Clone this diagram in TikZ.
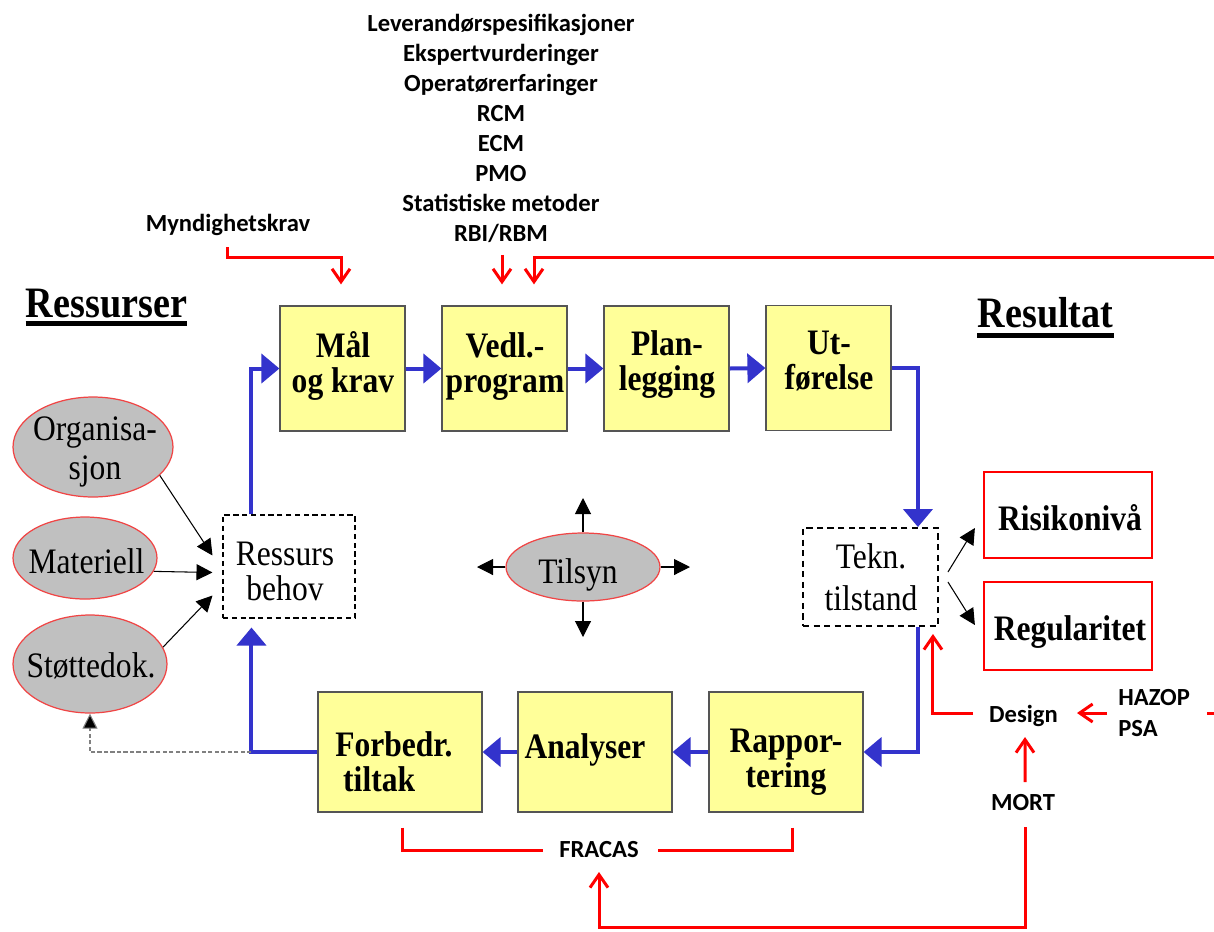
\documentclass[tikz,border=0pt]{standalone}
\usepackage{fontspec}
\usepackage{graphicx}
\setmainfont{Liberation Serif}
\newfontfamily\carlito{Carlito}
\usetikzlibrary{arrows.meta,calc,shapes.geometric}

\definecolor{boxyellow}{HTML}{FFFF99}
\definecolor{boxedge}{HTML}{555555}
\definecolor{flowblue}{HTML}{3333CC}
\definecolor{linkred}{HTML}{FF0000}
\definecolor{ovalgray}{HTML}{C0C0C0}
\definecolor{ovaledge}{HTML}{F04545}

% condensed serif text block; first baseline is the box baseline
\newcommand\narrowtext[2][c]{\scalebox{0.88}[1]{\begin{tabular}[t]{@{}#1@{}}#2\end{tabular}}}

\begin{document}
\begin{tikzpicture}[x=0.02cm,y=-0.02cm,
  stepbox/.style={rectangle,draw=boxedge,line width=0.7pt,fill=boxyellow,
    minimum width=2.5cm,minimum height=2.5cm,inner sep=0pt},
  resbox/.style={rectangle,draw=linkred,line width=0.045cm,fill=white,
    minimum width=3.36cm,inner sep=0pt},
  needbox/.style={rectangle,draw=black,line width=0.6pt,dash pattern=on 3pt off 2pt,
    minimum width=2.64cm,minimum height=2.06cm,inner sep=0pt},
  statebox/.style={rectangle,draw=black,line width=1.1pt,dash pattern=on 3.5pt off 2.5pt,
    minimum width=2.7cm,minimum height=1.96cm,inner sep=0pt},
  oval/.style={ellipse,draw=ovaledge,line width=0.7pt,fill=ovalgray,inner sep=0pt},
  boldtxt/.style={inner sep=0pt,font=\fontsize{20.4}{20.4}\selectfont\bfseries},
  plaintxt/.style={inner sep=0pt,font=\fontsize{20.4}{20.4}\selectfont},
  headtxt/.style={inner sep=0pt,font=\fontsize{24.7}{26}\selectfont\bfseries},
  sanstxt/.style={inner sep=0pt,font=\carlito\bfseries\fontsize{14}{17.07}\selectfont},
  flow/.style={draw=flowblue,line width=0.08cm,-{Triangle[length=0.36cm,width=0.58cm]}},
  link/.style={draw=linkred,line width=0.06cm,-{Straight Barb[length=0.26cm,width=0.36cm]}},
  linkline/.style={draw=linkred,line width=0.06cm},
  feed/.style={draw=black,line width=0.6pt,-{Triangle[length=0.32cm,width=0.32cm]}},
  trail/.style={draw=gray,line width=0.6pt,dash pattern=on 2.5pt off 1.2pt,
    -{Triangle[length=0.3cm,width=0.3cm,fill=black]}},
]
\fill[white] (0,0) rectangle (1214,931);
\path[use as bounding box] (0,0) rectangle (1214,931);

% ---- main maintenance loop: top row
\node[stepbox] (mal)  at (342.5,368.5) {};
\node[stepbox] (ved)  at (504.5,368.5) {};
\node[stepbox] (plan) at (666.5,368.5) {};
\node[stepbox] (utf)  at (828.5,368) {};
\node[boldtxt,anchor=base] (malt)  at (343,357) {\narrowtext{Mål\\og krav}};
\node[boldtxt,anchor=base] (vedt)  at (505,357) {\narrowtext{Vedl.-\\program}};
\node[boldtxt,anchor=base] (plant) at (667,355) {\narrowtext{Plan-\\legging}};
\node[boldtxt,anchor=base] (utft)  at (829,354) {\narrowtext{Ut-\\førelse}};

% ---- bottom row
\node[stepbox,minimum width=3.28cm,minimum height=2.4cm] (fb)  at (400,752) {};
\node[stepbox,minimum width=3.08cm,minimum height=2.4cm] (ana) at (595,752) {};
\node[stepbox,minimum width=3.08cm,minimum height=2.4cm] (rap) at (786,752) {};
\node[boldtxt,anchor=base west] (fbt) at (335,756) {\narrowtext[l]{Forbedr.\\\hspace{0.25em}tiltak}};
\node[boldtxt,anchor=base] (anat) at (585,758) {\narrowtext{Analyser}};
\node[boldtxt,anchor=base] (rapt) at (786,752) {\narrowtext{Rappor-\\tering}};

% ---- results
\node[resbox,minimum height=1.72cm] (ri) at (1068,515) {};
\node[resbox,minimum height=1.76cm] (rg) at (1068,626) {};
\node[boldtxt,anchor=base] (rit) at (1070,530) {\narrowtext{Risikonivå}};
\node[boldtxt,anchor=base] (rgt) at (1070,640) {\narrowtext{Regularitet}};

% ---- dashed state boxes
\node[needbox] (rb) at (289,566.5) {};
\node[plaintxt,anchor=base] (rbt) at (285,565) {\narrowtext{Ressurs\\behov}};
\node[statebox] (tk) at (870.5,577) {};
\node[plaintxt,anchor=base] (tkt) at (871,568) {\narrowtext{Tekn.\\[0.14cm]tilstand}};

% ---- resource ovals and supervision
\node[oval,minimum width=3.2cm,minimum height=2cm] (org) at (93,447) {};
\node[plaintxt,anchor=base] (orgt) at (95,440) {\narrowtext{Organisa-\\[0.08cm]sjon}};
\node[oval,minimum width=2.88cm,minimum height=1.64cm] (mat) at (85,558) {};
\node[plaintxt,anchor=base] (matt) at (86.5,573) {\narrowtext{Materiell}};
\node[oval,minimum width=3.08cm,minimum height=1.96cm] (st) at (90,664) {};
\node[plaintxt,anchor=base] (stt) at (91,677) {\narrowtext{Støttedok.}};
\node[oval,minimum width=3.08cm,minimum height=1.36cm] (ts) at (583,567) {};
\node[plaintxt,anchor=base] (tst) at (578,583) {\narrowtext{Tilsyn}};

% ---- headings
\node[headtxt,anchor=base] (res) at (106.5,317) {\narrowtext{Ressurser}};
\draw[line width=0.1cm] ($(res.base west)+(0,6)$) -- ($(res.base east)+(0,6)$);
\node[headtxt,anchor=base] (rsl) at (1045.5,327) {\narrowtext{Resultat}};
\draw[line width=0.1cm] ($(rsl.base west)+(0,8)$) -- ($(rsl.base east)+(0,8)$);

% ---- method labels
\node[sanstxt,anchor=base] (src) at (501,31.5) {\begin{tabular}[t]{@{}c@{}}
  Leverandørspesifikasjoner\\Ekspertvurderinger\\Operatørerfaringer\\RCM\\ECM\\PMO\\
  Statistiske metoder\\RBI/RBM\end{tabular}};
\node[sanstxt,anchor=base] (myn) at (228,231) {Myndighetskrav};
\node[sanstxt,anchor=base] (dsg) at (1023.5,722) {Design};
\node[sanstxt,anchor=base west] (haz) at (1118,705) {\begin{tabular}[t]{@{}l@{}}HAZOP\\[1pt]PSA\end{tabular}};
\node[sanstxt,anchor=base] (mrt) at (1023,810) {MORT};
\node[sanstxt,anchor=base] (frc) at (599,857) {FRACAS};

% ---- blue process flow
\draw[flow] ($(rb.north west)+(29,0)$) |- (mal.west);
\draw[flow] (mal.east) -- (ved.west);
\draw[flow] (ved.east) -- (plan.west);
\draw[flow] (plan.east) -- (utf.west);
\draw[flow] (utf.east) -| ($(tk.north east)+(-21,0)$);
\draw[flow] ($(tk.south east)+(-21,0)$) |- (rap.east);
\draw[flow] (rap.west) -- (ana.east);
\draw[flow] (ana.west) -- (fb.east);
\draw[flow] (fb.west) -| ($(rb.south west)+(29,9)$);
\draw[trail] ($(fb.west)+(-66,0)$) -| (st.south);

% ---- black arrows
\draw[feed] (org.-23) -- ($(rb.west)+(-10,-11)$);
\draw[feed] (mat.-11) -- ($(rb.west)+(-10,6)$);
\draw[feed] (st.13)   -- ($(rb.west)+(-10,29)$);
\draw[feed] ($(tk.east)+(9,-5)$) -- ($(ri.west)+(-8,13)$);
\draw[feed] ($(tk.east)+(9,5)$)  -- ($(rg.west)+(-8,-1)$);
\coordinate (tsN) at (583,498);
\coordinate (tsS) at (583,637);
\coordinate (tsW) at (477,567);
\coordinate (tsE) at (690,567);
\draw[feed] (ts) -- (tsN);
\draw[feed] (ts) -- (tsS);
\draw[feed] (ts) -- (tsW);
\draw[feed] (ts) -- (tsE);

% ---- red input links
\draw[link] ($(myn.base)+(-1,16)$) -- ++(0,10) -| ($(mal.north)+(-1.5,-21)$);
\draw[link] ($(src.south)+(1,4)$) -- ($(ved.north)+(-2.5,-21)$);
\coordinate (edgeT) at (1214,257);
\draw[link] (edgeT) -| ($(ved.north)+(29.5,-21)$);
\draw[link] ($(dsg.base)+(-50.5,-9)$) -| ($(tk.south east)+(-6,7)$);
\draw[link] ($(haz.base west)+(-11,8)$) -- ($(dsg.base)+(53.5,-9)$);
\coordinate (edgeH) at (1214,713);
\draw[linkline] (edgeH) -- ($(haz.base west)+(89,8)$);
\draw[link] ($(mrt.base)+(2,-28)$) -- ($(dsg.base)+(1.5,15)$);
\draw[link] ($(mrt.base)+(2,17)$) -- ++(0,100) -| ($(frc.base)+(0,15)$);
\draw[linkline] ($(fb.south)+(2,15)$) |- ($(frc.base)+(-56,-7)$);
\draw[linkline] ($(rap.south)+(6,15)$) |- ($(frc.base)+(59,-7)$);
\end{tikzpicture}
\end{document}
